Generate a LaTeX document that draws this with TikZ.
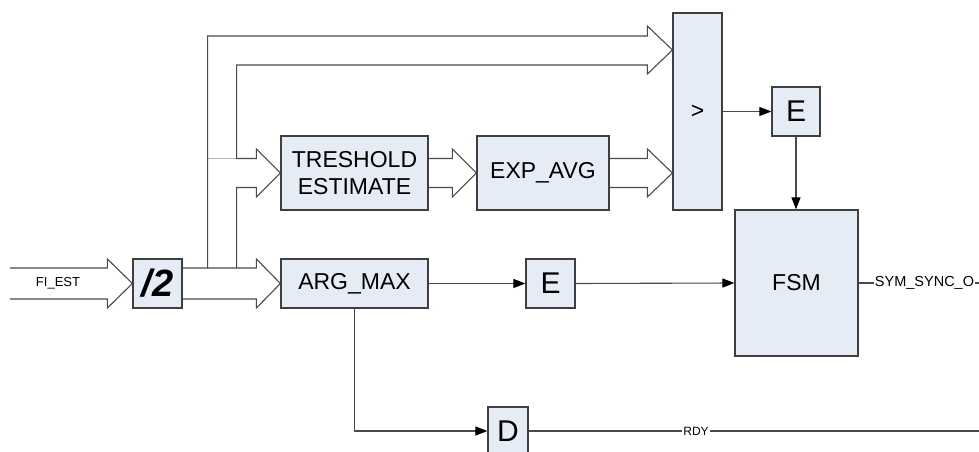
\documentclass[tikz,border=0pt]{standalone}
\usepackage{fontspec}
\setmainfont{Liberation Sans}
\usetikzlibrary{arrows.meta,calc}
\definecolor{boxfill}{HTML}{E5ECF6}
\definecolor{edge}{HTML}{3F3F3F}
\definecolor{wirec}{HTML}{4A4A4A}
\definecolor{faint}{HTML}{B4B4B4}

\begin{document}
\begin{tikzpicture}[x=1pt,y=-1pt,
  blk/.style={draw=edge,line width=1.2pt,fill=boxfill,inner sep=0pt,
    font=\fontsize{23}{27}\selectfont,align=center},
  wire/.style={draw=wirec,line width=1.1pt},
  sig/.style={wire,-{Triangle[length=12pt,width=9pt,fill=black,color=black]}},
  bus/.style={draw=wirec,line width=1.1pt,line join=miter},
  lbl/.style={inner sep=1pt}
]
\useasboundingbox (0,0) rectangle (979,452);

% blocks
\node[blk,minimum width=49pt,minimum height=49pt,
  font=\fontsize{38}{40}\selectfont\bfseries\itshape] (half) at (157.5,283.5) {/2};
\node[blk,minimum width=147pt,minimum height=74pt] (tre) at (354.5,173) {TRESHOLD\\ESTIMATE};
\node[blk,minimum width=132pt,minimum height=74pt] (exp) at (543,173) {EXP\_AVG};
\node[blk,minimum width=49pt,minimum height=197pt] (gt) at (697.5,111.5) {>};
\node[blk,minimum width=48pt,minimum height=49pt,font=\fontsize{30}{32}\selectfont] (eup) at (796,111.5) {E};
\node[blk,minimum width=147pt,minimum height=49pt] (argmax) at (354.5,283.5) {ARG\_MAX};
\node[blk,minimum width=49pt,minimum height=49pt,font=\fontsize{30}{32}\selectfont] (emid) at (550.5,283.5) {E};
\node[blk,minimum width=123pt,minimum height=146pt] (fsm) at (796.5,283) {FSM};
\node[blk,minimum width=40pt,minimum height=48pt,font=\fontsize{30}{32}\selectfont] (dbox) at (508,431) {D};

% free ends and tap points
\coordinate (fiin) at (10,283.5);
\coordinate (tapA) at ($(half.east)+(25,-15.5)$);
\coordinate (tapB) at ($(half.east)+(54,-15.5)$);
\coordinate (gtin1) at ($(gt.west)+(0,-61.5)$);
\coordinate (gtin2) at ($(gt.west)+(0,61.5)$);
\coordinate (symend) at (979,283);
\coordinate (rdyend) at (979,431);

% wide bus arrows
\draw[bus] ($(fiin)+(0,-15.5)$) -- ($(half.west)+(-25,-15.5)$) -- ++(0,-9)
  -- (half.west) -- ($(half.west)+(-25,24.5)$) -- ++(0,-9) -- ($(fiin)+(0,15.5)$);
\node[lbl,font=\fontsize{13}{15}\selectfont] (fiest) at (58,283.5) {FI\_EST};

\draw[bus] ($(half.east)+(0,-15.5)$) -- ($(argmax.west)+(-24,-15.5)$) -- ++(0,-9)
  -- (argmax.west) -- ($(argmax.west)+(-24,24.5)$) -- ++(0,-9) -- ($(half.east)+(0,15.5)$);

\draw[faint,line width=1.1pt] (tapA |- 0,158.5) -- (tapB |- 0,158.5);

\draw[bus] (tapA) -- (tapA |- 0,36) -- ($(gtin1)+(-25,-14)$) -- ++(0,-10)
  -- (gtin1) -- ($(gtin1)+(-25,24)$) -- ++(0,-9) -- (tapB |- 0,65)
  -- (tapB |- 0,158.5) -- ($(tre.west)+(-24,-14.5)$) -- ++(0,-9.5)
  -- (tre.west) -- ($(tre.west)+(-24,24)$) -- ++(0,-9.5) -- (tapB |- 0,187.5) -- (tapB);

\draw[bus] ($(tre.east)+(0,-14.5)$) -- ($(exp.west)+(-24,-14.5)$) -- ++(0,-9.5)
  -- (exp.west) -- ($(exp.west)+(-24,24)$) -- ++(0,-9.5) -- ($(tre.east)+(0,14.5)$);

\draw[bus] ($(exp.east)+(0,-14.5)$) -- ($(gtin2)+(-25,-14.5)$) -- ++(0,-9.5)
  -- (gtin2) -- ($(gtin2)+(-25,24)$) -- ++(0,-9.5) -- ($(exp.east)+(0,14.5)$);

% single-bit signals
\draw[sig] (gt.east) -- (eup.west);
\draw[sig] (eup.south) -- (eup.south |- fsm.north);
\draw[sig] (argmax.east) -- (emid.west);
\draw[sig] (emid.east) -- (fsm.west);
\draw[sig] (argmax.south) |- (dbox.west);

\node[lbl,font=\fontsize{14.5}{16}\selectfont] (sym) at (924.5,283) {SYM\_SYNC\_O};
\draw[wire] (fsm.east) -- (sym.west);
\draw[wire] (sym.east) -- (symend);

\node[lbl,font=\fontsize{12}{14}\selectfont] (rdy) at (696,431) {RDY};
\draw[wire] (dbox.east) -- (rdy.west);
\draw[wire] (rdy.east) -- (rdyend);
\end{tikzpicture}
\end{document}
